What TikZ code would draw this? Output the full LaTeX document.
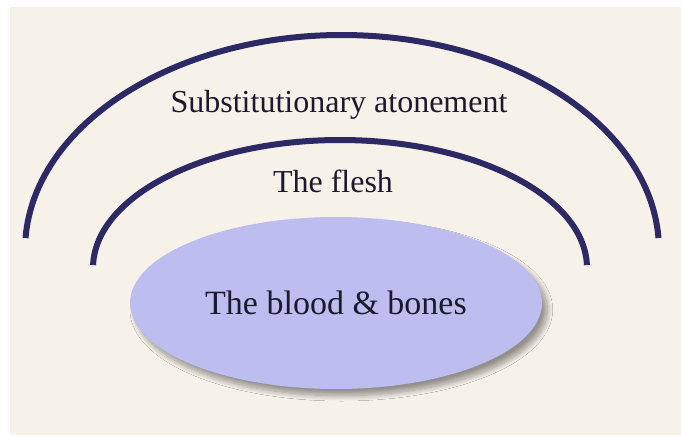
\documentclass[tikz,border=0pt]{standalone}
\usepackage{fontspec}
\setmainfont{Liberation Serif}
\usetikzlibrary{shapes.geometric,shadows.blur}
\definecolor{paper}{RGB}{246,241,233}
\definecolor{arcnavy}{RGB}{44,41,100}
\definecolor{lavender}{RGB}{189,189,240}
\definecolor{inkdark}{RGB}{28,25,45}
\begin{document}
\begin{tikzpicture}[x=0.75pt,y=-0.75pt,font=\fontsize{24}{28}\selectfont,text=inkdark,
  layerarc/.style={line width=4.5pt,draw=arcnavy},
  layerlabel/.style={anchor=base,inner sep=0pt}]
\useasboundingbox (0,0) rectangle (681,435);
\fill[white] (0,0) rectangle (681,435);
\fill[paper] (10,7) rectangle (681,435);
% outer and inner layers
\draw[layerarc] (342,250) ++(183.2:317 and 215) arc[start angle=183.2,end angle=356.8,x radius=317,y radius=215];
\draw[layerarc] (340,268) ++(181.3:247 and 128) arc[start angle=181.3,end angle=358.7,x radius=247,y radius=128];
\node[layerlabel] (atonement) at (339,113) {Substitutionary atonement};
\node[layerlabel] (flesh) at (333,192) {The flesh};
% core
\node[ellipse,fill=lavender,minimum width=309pt,minimum height=129pt,inner sep=0pt,
  font=\fontsize{25.5}{30}\selectfont,
  blur shadow={shadow xshift=4pt,shadow yshift=-5pt,shadow blur radius=4pt,shadow blur steps=12,shadow opacity=40}]
  (blood) at (336,303) {The blood \& bones};
\end{tikzpicture}
\end{document}
